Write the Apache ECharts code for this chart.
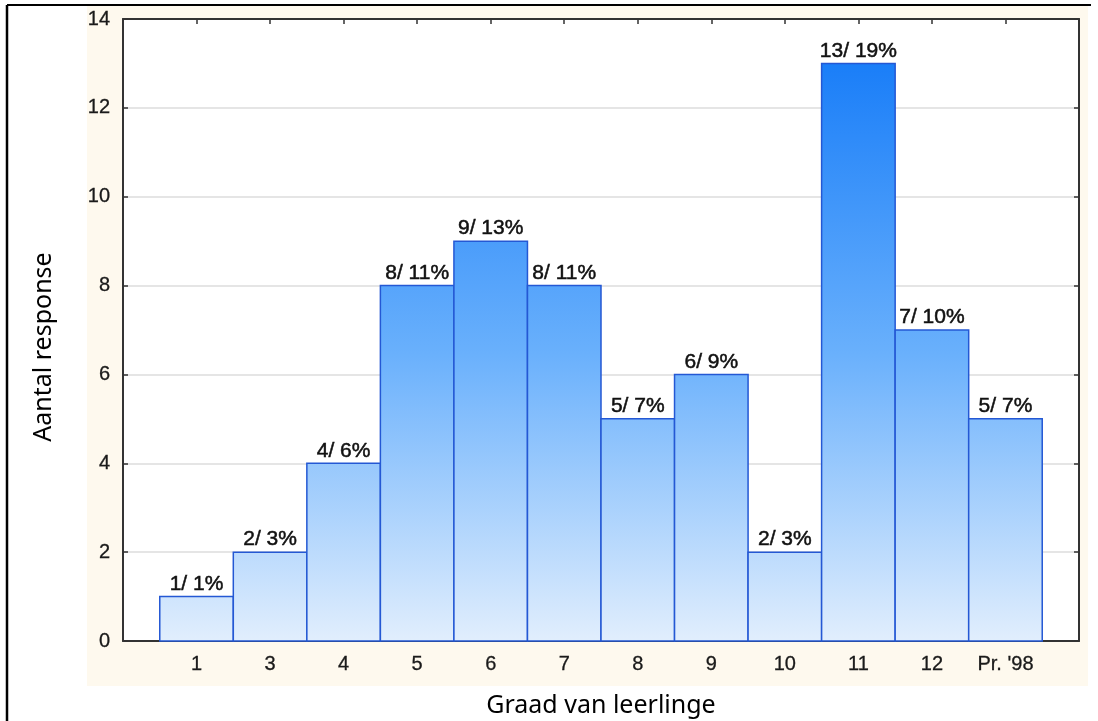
<!DOCTYPE html>
<html>
<head>
<meta charset="utf-8">
<script src="https://cdn.jsdelivr.net/npm/echarts@6/dist/echarts.min.js"></script>
<style>
  html, body { margin: 0; padding: 0; background: #fff; }
  #chart { width: 1098px; height: 721px; }
</style>
</head>
<body>
<div id="chart"></div>
<script>
const categories = ['1', '3', '4', '5', '6', '7', '8', '9', '10', '11', '12', "Pr. '98"];
const counts = [1, 2, 4, 8, 9, 8, 5, 6, 2, 13, 7, 5];
const percents = [1, 3, 6, 11, 13, 11, 7, 9, 3, 19, 10, 7];
const yTicks = [0, 2, 4, 6, 8, 10, 12, 14];

const positions = categories.map((c, i) => i + 1);
const data = counts.map((v, i) => [positions[i], v, percents[i]]);

const chart = echarts.init(document.getElementById('chart'), null, { renderer: 'canvas' });

const tickFont = { fontFamily: 'Liberation Sans', fontSize: 20, color: '#1a1a1a', textBorderColor: '#1a1a1a', textBorderWidth: 0.3 };

const option = {
  animation: false,
  backgroundColor: '#fff',
  graphic: [
    { type: 'rect', z: -10, shape: { x: 87, y: 5, width: 1001, height: 681 }, style: { fill: '#fef9ee' } },
    { type: 'line', z: 10, shape: { x1: 7, y1: 5, x2: 1091, y2: 5 }, style: { stroke: '#000', lineWidth: 2 } },
    { type: 'line', z: 10, shape: { x1: 7, y1: 5, x2: 7, y2: 721 }, style: { stroke: '#000', lineWidth: 2.5 } }
  ],
  grid: {
    left: 123, top: 19, right: 19, bottom: 80,
    show: true, backgroundColor: '#fff', borderWidth: 0,
    containLabel: false,
    outerBoundsMode: 'none'
  },
  xAxis: [
    {
      type: 'value', min: 0, max: 13, interval: 1, position: 'bottom',
      name: 'Graad van leerlinge', nameLocation: 'middle', nameGap: 52,
      nameTextStyle: { fontFamily: 'Noto Sans', fontSize: 25, color: '#000' },
      axisLine: { show: true, onZero: false, lineStyle: { color: '#333', width: 2 } },
      axisTick: { show: true, inside: true, length: 5, customValues: positions, lineStyle: { color: '#333', width: 1.5 } },
      axisLabel: Object.assign({ margin: 13, customValues: positions, formatter: v => categories[Math.round(v) - 1] || '' }, tickFont),
      splitLine: { show: false }
    },
    {
      type: 'value', min: 0, max: 13, interval: 1, position: 'top',
      axisLine: { show: true, onZero: false, lineStyle: { color: '#333', width: 2 } },
      axisTick: { show: true, inside: true, length: 5, customValues: positions, lineStyle: { color: '#333', width: 1.5 } },
      axisLabel: { show: false },
      splitLine: { show: false }
    }
  ],
  yAxis: [
    {
      type: 'value', min: 0, max: 14, interval: 2, position: 'left',
      name: 'Aantal response', nameLocation: 'middle', nameGap: 67, nameRotate: 90,
      nameTextStyle: { fontFamily: 'Noto Sans', fontSize: 25, color: '#000', padding: [0, 34, 0, 0] },
      axisLine: { show: true, onZero: false, lineStyle: { color: '#333', width: 2 } },
      axisTick: { show: true, inside: true, length: 5, lineStyle: { color: '#333', width: 1.5 } },
      axisLabel: Object.assign({ margin: 13, formatter: v => String(v) }, tickFont),
      splitLine: { show: true, lineStyle: { color: '#dcdcdc', width: 1.5 } }
    },
    {
      type: 'value', min: 0, max: 14, interval: 2, position: 'right',
      axisLine: { show: true, onZero: false, lineStyle: { color: '#333', width: 2 } },
      axisTick: { show: true, inside: true, length: 5, lineStyle: { color: '#333', width: 1.5 } },
      axisLabel: { show: false },
      splitLine: { show: false }
    }
  ],
  series: [
    {
      type: 'custom',
      xAxisIndex: 0,
      yAxisIndex: 0,
      data: data,
      renderItem: function (params, api) {
        const x = api.value(0), v = api.value(1), pct = api.value(2);
        const p0 = api.coord([x - 0.5, v]);
        const p1 = api.coord([x + 0.5, 0]);
        const yTop = api.coord([0, 13])[1];
        const yBot = api.coord([0, 0])[1];
        const grad = new echarts.graphic.LinearGradient(0, yTop, 0, yBot, [
          { offset: 0, color: '#1a7ef8' },
          { offset: 0.5, color: '#69b0fc' },
          { offset: 1, color: '#e1eefd' }
        ], true);
        return {
          type: 'group',
          children: [
            {
              type: 'rect',
              shape: { x: p0[0], y: p0[1], width: p1[0] - p0[0], height: p1[1] - p0[1] },
              style: { fill: grad, stroke: '#2458d4', lineWidth: 1.5 }
            },
            {
              type: 'text',
              style: {
                text: v + '/ ' + pct + '%',
                x: (p0[0] + p1[0]) / 2,
                y: p0[1] - 2,
                align: 'center',
                verticalAlign: 'bottom',
                fontFamily: 'Liberation Sans',
                fontSize: 21,
                fill: '#111',
                stroke: '#111',
                lineWidth: 0.5
              }
            }
          ]
        };
      }
    }
  ]
};

chart.setOption(option);
</script>
</body>
</html>
